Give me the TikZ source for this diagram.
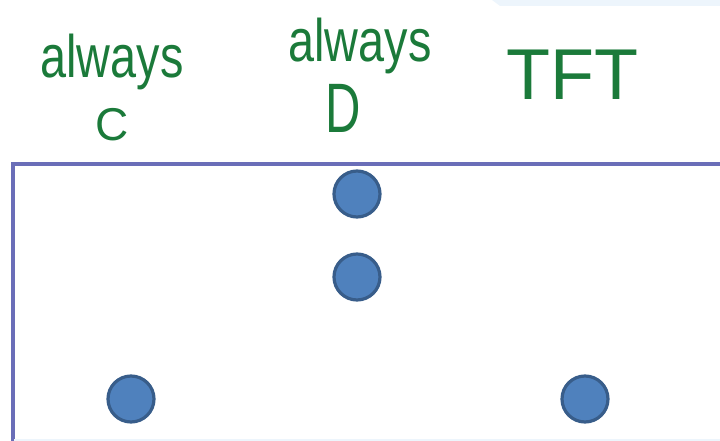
\documentclass[tikz,border=0pt]{standalone}
\usepackage{fontspec}
\setmainfont{Liberation Sans}
\newfontfamily\handnarrow[FakeStretch=0.78]{Liberation Sans}
\newfontfamily\handD[FakeStretch=0.7]{Liberation Sans}
\definecolor{ink}{HTML}{1B7A3A}
\definecolor{frame}{HTML}{6A6EB8}
\definecolor{dotfill}{HTML}{4F81BD}
\definecolor{dotline}{HTML}{385D8A}
\definecolor{haze}{HTML}{EDF5FC}
\tikzset{
  label/.style={text=ink, anchor=base, inner sep=0pt},
  dot/.style={circle, minimum size=46pt, inner sep=0pt, fill=dotfill, draw=dotline, line width=3.2pt},
}
\begin{document}
\begin{tikzpicture}[x=1pt,y=-1pt]
\useasboundingbox (0,0) rectangle (720,441);
\fill[haze] (492,0) -- (720,0) -- (720,6) -- (500,6) -- cycle;
\begin{scope}
\clip (0,0) rectangle (720,441);
\draw[frame, line width=3.4pt] (13,164) rectangle (730,450);
\draw[haze, line width=1.5pt] (14,440) -- (720,440);
\end{scope}
\node[label, font=\handnarrow\fontsize{60}{60}\selectfont] (ac) at (112,78) {always};
\node[label, font=\fontsize{46}{46}\selectfont] (c) at (112,140) {C};
\node[label, font=\handnarrow\fontsize{60}{60}\selectfont] (ad) at (360,62) {always};
\node[label, font=\handD\fontsize{70}{70}\selectfont] (d) at (343,133) {D};
\node[label, font=\fontsize{72}{72}\selectfont] (tft) at (572,100) {TFT};
\node[dot] (d1) at (357,194) {};
\node[dot] (d2) at (357,277) {};
\node[dot] (d3) at (131,399) {};
\node[dot] (d4) at (585,399) {};
\end{tikzpicture}
\end{document}
